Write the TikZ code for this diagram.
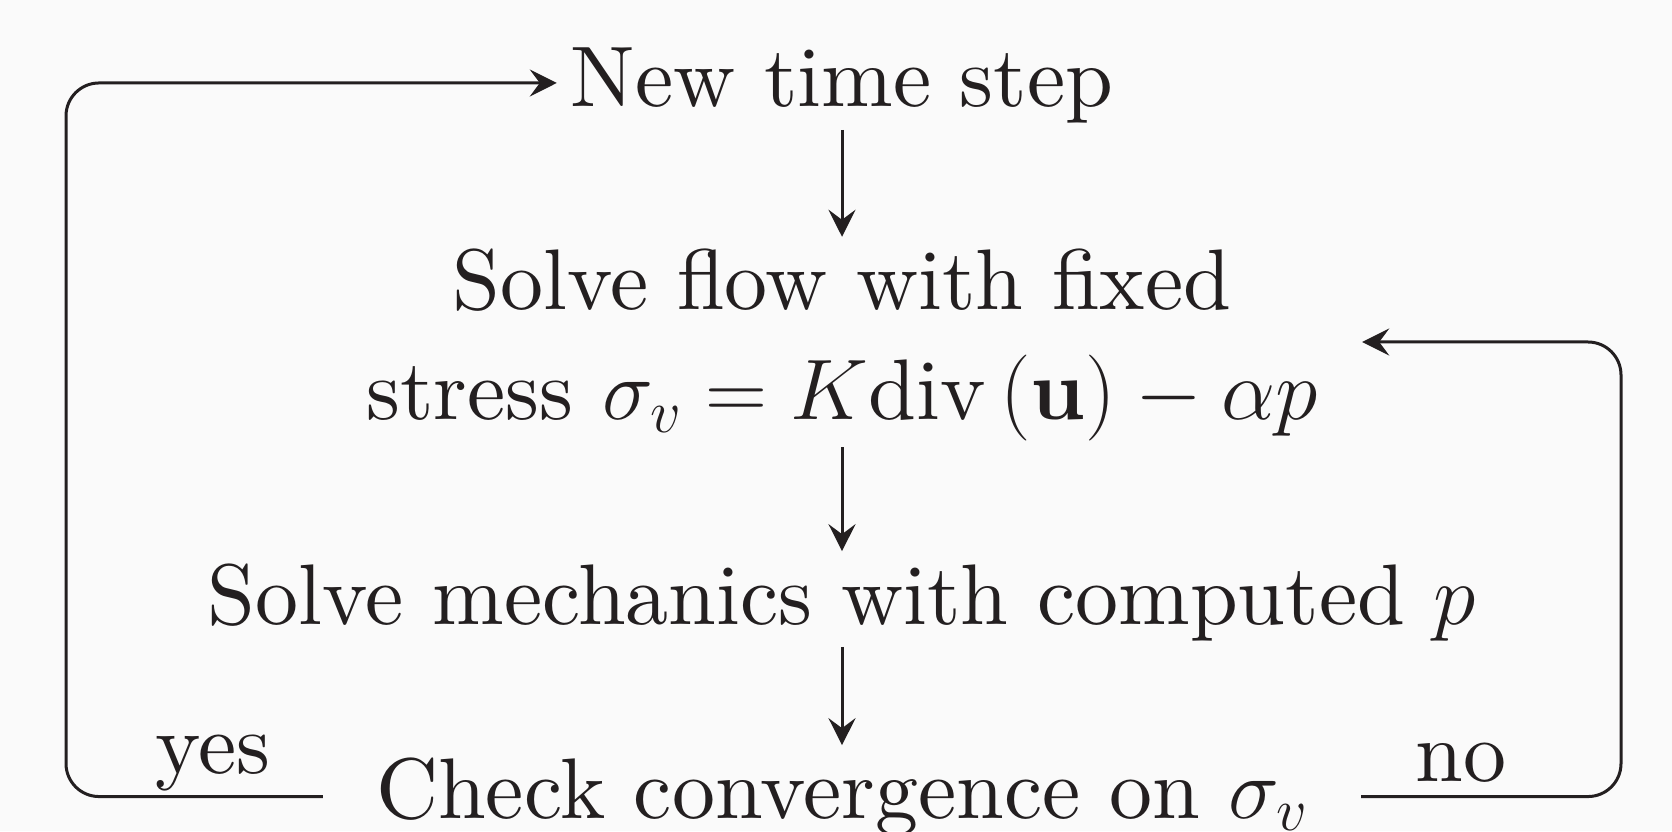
\RequirePackage{fix-cm}
\documentclass[tikz,border=0pt]{standalone}
\usepackage{amsmath}
\usepackage{fontspec}
\setmainfont{lmroman10-regular.otf}[BoldFont=lmroman10-bold.otf,ItalicFont=lmroman10-italic.otf]
\usetikzlibrary{arrows.meta}
\definecolor{ink}{HTML}{231F20}
\definecolor{bg}{HTML}{FAFAFA}
\begin{document}
\begin{tikzpicture}[x=1pt,y=1pt,
  every node/.style={font=\fontsize{86}{110}\selectfont, text=ink, inner sep=6pt},
  conn/.style={draw=ink, line width=3pt, -{Stealth[length=27pt,width=27pt,inset=10pt]}},
  vconn/.style={conn, shorten >=6pt},
  loopline/.style={conn, rounded corners=33pt},
  lbl/.style={anchor=base, inner sep=0pt}]
\fill[bg] (0,0) rectangle (1672,831);
\useasboundingbox (0,0) rectangle (1672,831);
\node[anchor=base, minimum width=570pt] (new) at (842,724) {New time step};
\node[align=center, minimum width=1040pt] (flow) at (842,486) {Solve flow with fixed\\stress $\sigma_v = K\mathrm{div}\,(\mathbf{u}) - \alpha p$};
\node[anchor=base] (mech) at (842,207) {Solve mechanics with computed $p$};
\node[anchor=base, minimum width=1038pt] (check) at (842,13) {Check convergence on $\sigma_v$};
\draw[vconn] (new.south) -- (flow.north);
\draw[vconn] (flow.south) -- (mech.north);
\draw[vconn] (mech.south) -- (check.north);
\coordinate (L) at (66,400);
\coordinate (R) at (1621,400);
\draw[loopline] (check.west) -| (L) |- ([yshift=3pt]new.west);
\draw[loopline] (check.east) -| (R) |- ([yshift=3pt]flow.east);
\node[lbl] (yes) at (213,58) {yes};
\node[lbl] (no) at (1461,50) {no};
\end{tikzpicture}
\end{document}
